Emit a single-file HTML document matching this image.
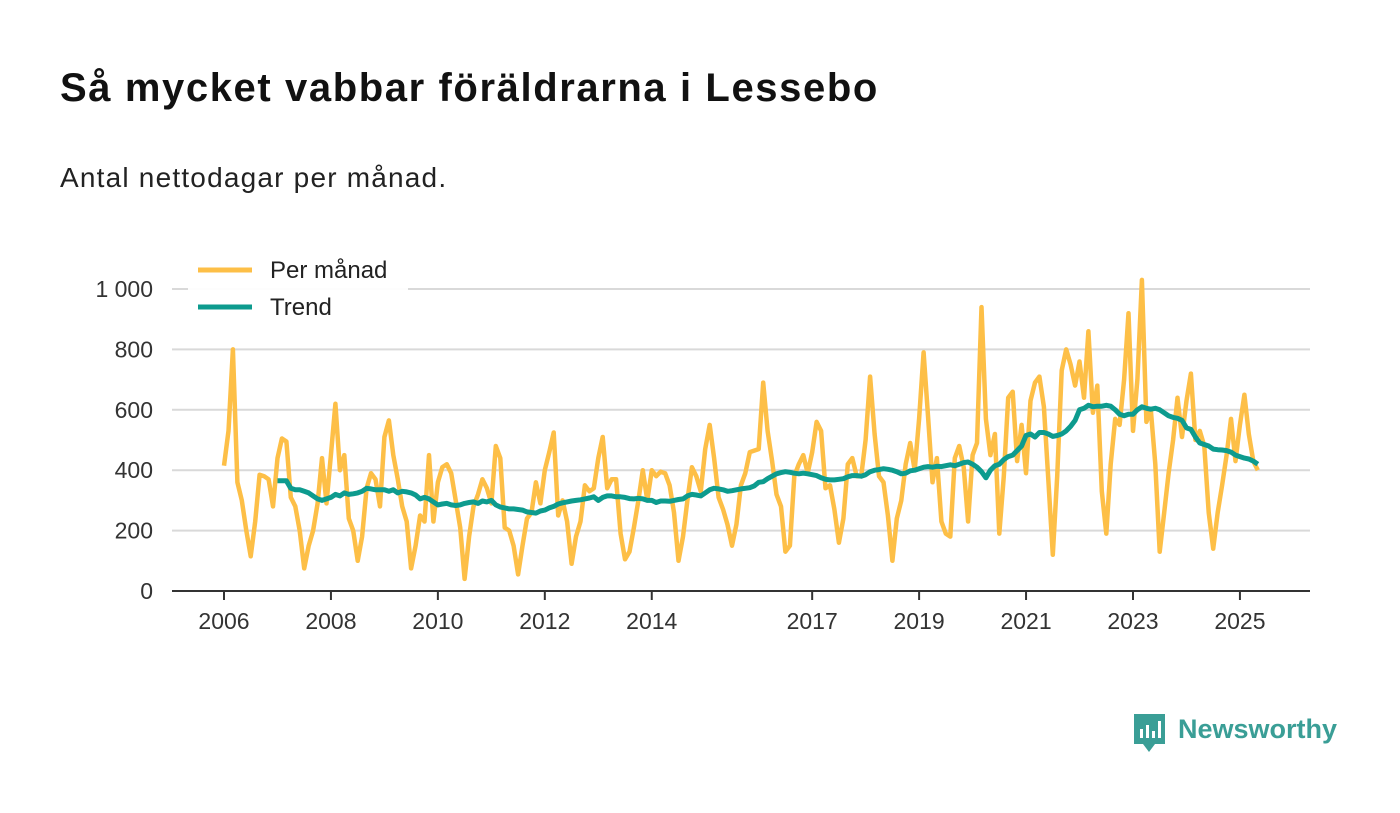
<!DOCTYPE html>
<html><head><meta charset="utf-8">
<style>
body{margin:0;background:#fff;font-family:"Liberation Sans","DejaVu Sans",sans-serif;}
#wrap{position:relative;width:1400px;height:813px;overflow:hidden;}
h1{position:absolute;left:60px;top:66px;margin:0;font-size:40px;letter-spacing:1.6px;font-weight:bold;color:#111;}
.sub{position:absolute;left:60px;top:162px;font-size:28px;letter-spacing:1.2px;color:#222;}
svg{position:absolute;left:0;top:0;}
</style></head><body>
<div id="wrap">
<h1>Så mycket vabbar föräldrarna i Lessebo</h1>
<div class="sub">Antal nettodagar per månad.</div>
<svg id="chart" width="1400" height="813"></svg>
</div>
<script>
const monthly = [
415,530,800,360,300,200,115,230,385,380,370,280,
440,505,495,310,280,200,75,150,200,290,440,290,
450,620,400,450,240,200,100,180,340,390,370,280,
510,565,450,370,280,230,75,150,250,230,450,230,
360,410,420,390,300,210,40,180,280,320,370,340,
290,480,440,210,200,150,55,150,240,260,360,290,
400,460,525,250,300,230,90,180,230,350,330,340,
440,510,340,370,370,190,105,130,210,300,400,300,
400,380,395,390,350,260,100,180,300,410,380,330,
470,550,440,310,270,220,150,220,350,390,460,465,
470,690,530,430,320,280,130,150,380,420,450,390,
460,560,530,340,350,270,160,240,420,440,380,380,
500,710,520,380,360,250,100,240,300,420,490,400,
570,790,580,360,440,230,190,180,440,480,410,230,
450,490,940,570,450,520,190,380,640,660,430,550,
390,630,690,710,610,370,120,380,730,800,750,680,
760,640,860,590,680,330,190,420,570,550,700,920,
530,700,1030,560,600,420,130,260,390,500,640,510,
630,720,500,530,480,260,140,260,350,450,570,430,
550,650,520,430,400];
const trend = [
365,365,365,340,335,335,330,325,315,305,300,305,
310,320,315,325,320,322,325,330,340,338,335,335,
335,330,335,325,330,328,325,318,305,310,305,295,
285,288,290,285,283,285,290,293,295,290,298,295,
300,285,278,275,272,272,270,268,262,260,258,265,
268,275,280,288,292,295,298,300,302,305,308,312,
300,310,315,315,312,312,310,306,305,307,305,300,
300,293,298,298,297,300,303,305,315,320,318,315,
325,335,340,338,335,330,332,335,338,340,342,348,
360,362,372,380,388,392,395,393,390,388,390,388,
385,382,375,370,368,368,370,372,378,382,382,380,
385,395,400,402,405,403,400,395,388,390,398,400,
405,410,412,410,413,412,415,418,415,420,425,427,
420,410,395,375,400,415,420,435,445,450,465,480,
515,520,510,525,525,520,512,515,520,530,545,565,
600,605,615,610,612,612,615,612,600,585,580,585,
585,600,610,605,602,605,600,590,580,575,572,565,
540,535,510,490,485,480,470,468,467,465,460,450,
445,440,437,430,420];
const yTicks = [0,200,400,600,800,1000];
const yTickLabels = ["0","200","400","600","800","1 000"];
const xTicks = [2006,2008,2010,2012,2014,2017,2019,2021,2023,2025];
const monthlyStart = 2006, trendStart = 2007;

const svg = document.getElementById('chart');
const NS = 'http://www.w3.org/2000/svg';
const xS = t => 224 + (t - 2006) * 53.47;
const yS = v => 591 - v * 0.302;
function mk(tag, attrs){const e=document.createElementNS(NS,tag);for(const k in attrs)e.setAttribute(k,attrs[k]);svg.appendChild(e);return e;}

yTicks.forEach((v,i)=>{
  if(v>0){const g=mk('line',{x1:172,x2:1310,y1:yS(v),y2:yS(v),stroke:'#d9d9d9','stroke-width':2});
  
  }
  const t=mk('text',{x:153,y:yS(v)+8,'text-anchor':'end','font-size':23,fill:'#333','font-family':'Liberation Sans, sans-serif'});
  t.textContent=yTickLabels[i];
  
  
});
const ax=mk('line',{x1:172,x2:1310,y1:591,y2:591,stroke:'#333','stroke-width':2});


xTicks.forEach(yr=>{
  const tk=mk('line',{x1:xS(yr),x2:xS(yr),y1:591,y2:600,stroke:'#333','stroke-width':2});
  
  
  const t=mk('text',{x:xS(yr),y:629,'text-anchor':'middle','font-size':23,fill:'#333','font-family':'Liberation Sans, sans-serif'});
  t.textContent=yr;
  
  
});
function pts(arr,start){return arr.map((v,i)=>xS(start+i/12).toFixed(1)+','+yS(v).toFixed(1)).join(' ');}
const l1=mk('polyline',{points:pts(monthly,monthlyStart),fill:'none',stroke:'#fdbf47','stroke-width':4.5,'stroke-linejoin':'round'});


const l2=mk('polyline',{points:pts(trend,trendStart),fill:'none',stroke:'#0d9b8e','stroke-width':5,'stroke-linejoin':'round'});



const lg=mk('rect',{x:188,y:254,width:220,height:70,fill:'#fff',opacity:0.95});


[['Per månad','#fdbf47',270],['Trend','#0d9b8e',307]].forEach(([lab,c,y])=>{
  const s=mk('line',{x1:198,x2:252,y1:y,y2:y,stroke:c,'stroke-width':5});
  
  
  const t=mk('text',{x:270,y:y+8,'font-size':24,fill:'#222','font-family':'Liberation Sans, sans-serif'});
  t.textContent=lab;
  
  
});

const lo=mk('g',{});


lo.innerHTML='<path d="M1134 714 h31 v30 h-10 l-6 8 l-6 -8 h-9 z" fill="#3a9e96"/><rect x="1140" y="729" width="3" height="9" fill="#fff"/><rect x="1146" y="725" width="3" height="13" fill="#fff"/><rect x="1152" y="731" width="3" height="7" fill="#fff"/><rect x="1158" y="721" width="3" height="17" fill="#fff"/><text x="1178" y="738" font-size="27" font-weight="bold" fill="#3a9e96" font-family="Liberation Sans, sans-serif">Newsworthy</text>';
</script>
</body></html>
